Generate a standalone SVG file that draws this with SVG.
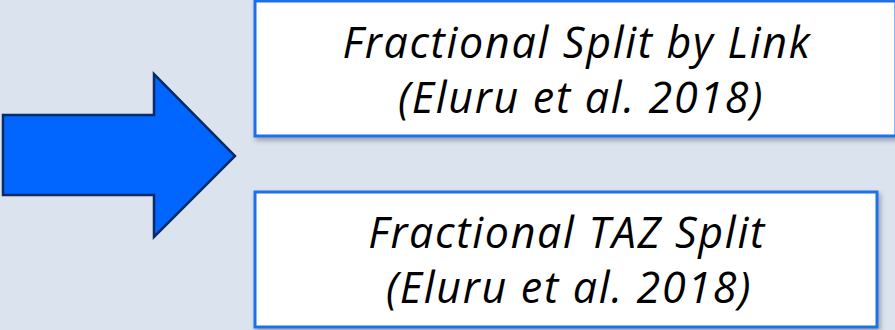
<svg xmlns="http://www.w3.org/2000/svg" width="895" height="330" viewBox="0 0 895 330">
  <defs>
    <filter id="shadow" x="-5%" y="-10%" width="115%" height="130%">
      <feDropShadow dx="2" dy="3" stdDeviation="2.5" flood-color="#000" flood-opacity="0.3"/>
    </filter>
  </defs>
  <style>
    .box { fill: #ffffff; stroke: #1f6fe8; stroke-width: 3; }
    .label { font-family: "Open Sans", "Liberation Sans", sans-serif; font-style: italic; font-size: 43px; letter-spacing: 1.7px; fill: #000; text-anchor: middle; }
    .arrow { fill: #0066ff; stroke: #0a2a66; stroke-width: 2.5; stroke-linejoin: miter; }
  </style>
  <rect x="0" y="0" width="895" height="330" fill="#dae3ee"/>

  <g id="connectors">
    <path class="arrow" d="M3,115 L154,115 L154,74 L235,156 L154,237 L154,195 L3,195 Z"/>
  </g>

  <g id="node-split-by-link">
    <rect class="box" x="255" y="1" width="641" height="135" filter="url(#shadow)"/>
    <text class="label" x="577" y="58">Fractional Split by Link</text>
    <text class="label" x="581" y="113">(Eluru et al. 2018)</text>
  </g>

  <g id="node-taz-split">
    <rect class="box" x="255" y="192" width="622" height="135" filter="url(#shadow)"/>
    <text class="label" x="567" y="248">Fractional TAZ Split</text>
    <text class="label" x="569" y="303">(Eluru et al. 2018)</text>
  </g>
</svg>
